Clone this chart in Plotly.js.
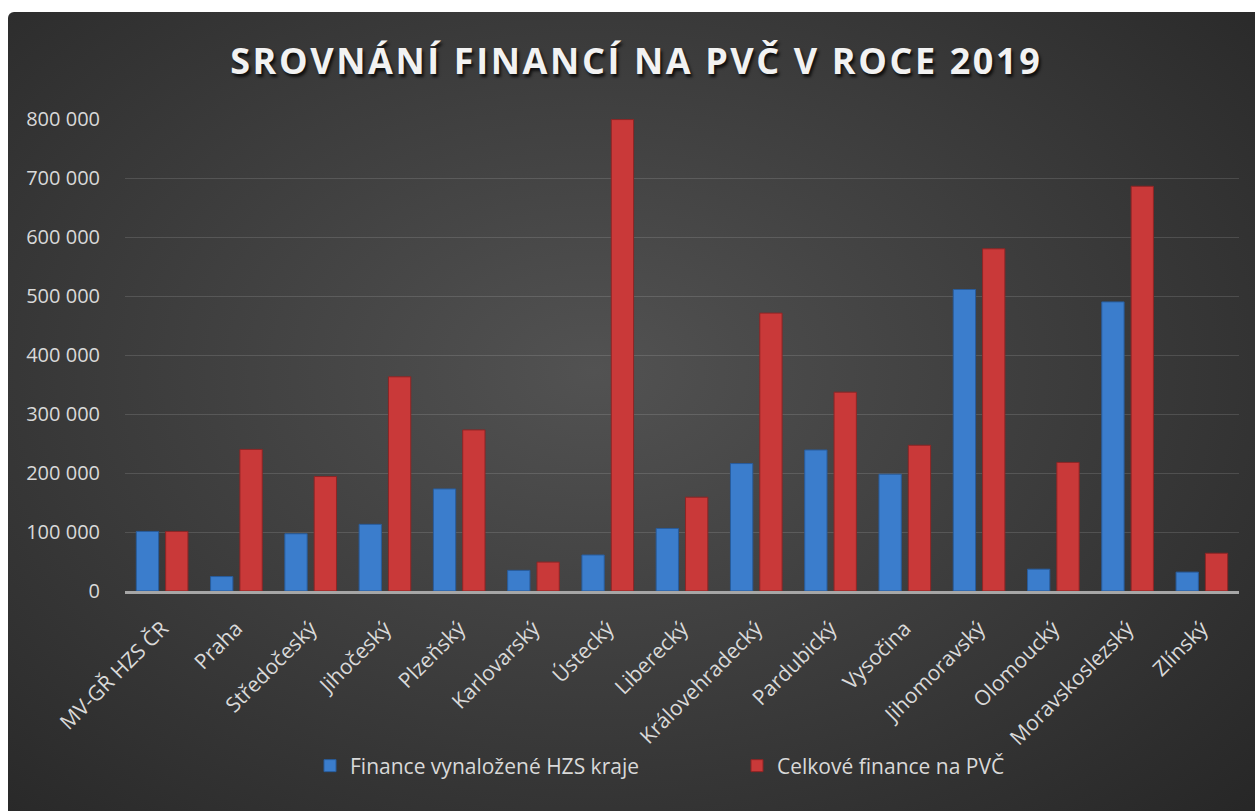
<!DOCTYPE html>
<html>
<head>
<meta charset="utf-8">
<script src="https://cdn.plot.ly/plotly-3.0.1.min.js"></script>
<style>
  html, body { margin: 0; padding: 0; background: #ffffff; }
  #bg {
    position: absolute; left: 8px; top: 12px; width: 1247px; height: 799px;
    border-radius: 6px 0 0 0;
    background: radial-gradient(ellipse 75% 80% at 47% 45%, #525252 0%, #3a3a3a 55%, #262626 100%);
  }
  #chart { position: absolute; left: 0; top: 0; width: 1255px; height: 811px; }
  #chart .gtitle { letter-spacing: 2.6px; }
</style>
</head>
<body>
<div id="bg"></div>
<div id="chart"></div>
<script>
const categories = ["MV-GŘ HZS ČR", "Praha", "Středočeský", "Jihočeský", "Plzeňský", "Karlovarský", "Ústecký", "Liberecký", "Královehradecký", "Pardubický", "Vysočina", "Jihomoravský", "Olomoucký", "Moravskoslezský", "Zlínský"];
const hzsKraje = [101000, 24500, 97000, 113000, 173000, 35000, 61000, 106000, 216000, 239000, 198000, 511000, 37000, 490000, 32000];
const celkem = [101000, 240000, 194000, 363000, 273000, 49000, 799000, 159000, 471000, 337000, 247000, 580000, 218000, 686000, 64000];
const seriesNames = ["Finance vynaložené HZS kraje", "Celkové finance na PVČ"];
const titleText = "SROVNÁNÍ FINANCÍ NA PVČ V ROCE 2019";

const traces = [
  {
    type: "bar", name: seriesNames[0], x: categories, y: hzsKraje,
    marker: { color: "#3b7dcc", line: { color: "#285c9c", width: 1 } },
    hoverinfo: "x+y"
  },
  {
    type: "bar", name: seriesNames[1], x: categories, y: celkem,
    marker: { color: "#c93939", line: { color: "#8e2525", width: 1 } },
    hoverinfo: "x+y"
  }
];

const layout = {
  width: 1255, height: 811,
  paper_bgcolor: "rgba(0,0,0,0)",
  plot_bgcolor: "rgba(0,0,0,0)",
  separators: ", ",
  font: { family: "Open Sans, sans-serif", color: "#d9d9d9", size: 20 },
  margin: { l: 125, r: 16, t: 119, b: 220, pad: 0 },
  barmode: "group",
  bargap: 0.21,
  bargroupgap: 0.24,
  title: {
    text: titleText,
    font: { family: "Open Sans, sans-serif", size: 36, color: "#f2f2f2", weight: 700, shadow: "2px 3px 3px rgba(0,0,0,0.75)" },
    x: 0.507, xanchor: "center", xref: "container",
    y: 1 - 61 / 811, yanchor: "middle", yref: "container"
  },
  xaxis: {
    type: "category",
    tickangle: -45,
    tickfont: { size: 21, color: "#d9d9d9" },
    showgrid: false,
    showline: true, linecolor: "#a6a6a6", linewidth: 3,
    ticks: "outside", ticklen: 14, tickcolor: "rgba(0,0,0,0)",
    zeroline: false
  },
  yaxis: {
    range: [0, 800000],
    dtick: 100000,
    tickformat: ",d",
    tickfont: { size: 20, color: "#d9d9d9" },
    showgrid: true, gridcolor: "rgba(255,255,255,0.13)", gridwidth: 1,
    zeroline: false,
    showline: false,
    ticks: "outside", ticklen: 20, tickcolor: "rgba(0,0,0,0)"
  },
  showlegend: true,
  legend: {
    orientation: "h",
    xref: "container", yref: "container",
    x: 310 / 1255, xanchor: "left",
    y: 1 - 766 / 811, yanchor: "middle",
    font: { size: 21, color: "#d9d9d9" },
    entrywidth: 382, entrywidthmode: "pixels",
    bgcolor: "rgba(0,0,0,0)"
  }
};

Plotly.newPlot("chart", traces, layout, { displayModeBar: false, responsive: false });
</script>
</body>
</html>
